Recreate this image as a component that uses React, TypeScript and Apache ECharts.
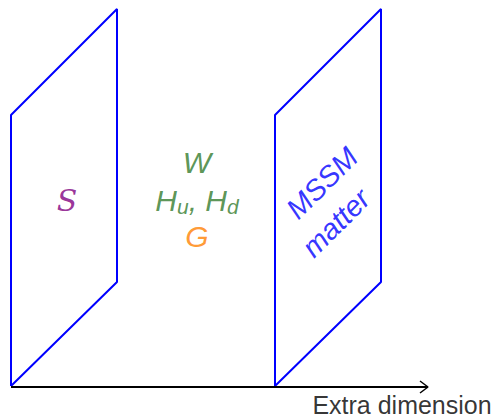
import React, { useEffect, useRef } from "react";
import * as echarts from "echarts";

// Plane outlines (pixel-like coordinates, y downward)
const leftPlane: number[][] = [[11, 386], [11, 115], [117, 9], [117, 282], [11, 386]];
const rightPlane: number[][] = [[275, 386], [275, 115], [381, 9], [381, 282], [275, 386]];
const axisLine: number[][] = [[11, 387], [428, 387]];
const arrowHead: number[][] = [[420, 381], [428, 387], [420, 393]];

// Labels
const labelS = { pos: [67, 200], text: "S" };
const labelW = { pos: [197, 162], text: "W" };
const labelH = { pos: [197, 200] };
const labelG = { pos: [197, 236], text: "G" };
const labelMSSM = { pos: [322, 183], text: "MSSM" };
const labelMatter = { pos: [336, 223], text: "matter" };
const labelAxis = { pos: [402, 405], text: "Extra dimension" };

const FONT = "'Liberation Sans', Arial, Helvetica, sans-serif";
const GREEN = "#327a2b";

function textPoint(pos: number[], formatter: string, color: string, extra: any = {}) {
  return {
    type: "scatter",
    symbolSize: 1,
    itemStyle: { color: "transparent" },
    silent: true,
    data: [pos],
    label: {
      show: true,
      position: "inside",
      formatter,
      color,
      fontFamily: FONT,
      fontSize: 29,
      fontStyle: "italic",
      align: "center",
      verticalAlign: "middle",
      ...extra,
    },
  };
}

function lineSeries(data: number[][], color: string, width: number) {
  return {
    type: "line",
    data,
    symbol: "none",
    silent: true,
    lineStyle: { color, width },
  };
}

export default function App() {
  const ref = useRef<HTMLDivElement>(null);
  useEffect(() => {
    if (!ref.current) return;
    const chart = echarts.init(ref.current, undefined, { renderer: "svg" });
    chart.setOption({
      animation: false,
      backgroundColor: "#ffffff",
      grid: { left: 0, right: 0, top: 0, bottom: 0 },
      xAxis: { type: "value", min: 0, max: 500, show: false },
      yAxis: { type: "value", min: 0, max: 418, inverse: true, show: false },
      series: [
        lineSeries(leftPlane, "#0000ff", 2),
        lineSeries(rightPlane, "#0000ff", 2),
        lineSeries(axisLine, "#000000", 2),
        lineSeries(arrowHead, "#000000", 1.5),
        textPoint(labelS.pos, labelS.text, "#800080", {
          fontFamily: "'DejaVu Serif', serif",
          fontSize: 30,
        }),
        textPoint(labelW.pos, labelW.text, GREEN, { fontSize: 30 }),
        textPoint(labelH.pos, "{h|H}{s|u}{h|, H}{s|d}", GREEN, {
          rich: {
            h: { fontSize: 30, fontStyle: "italic", fontFamily: FONT, color: GREEN },
            s: {
              fontSize: 21,
              fontStyle: "italic",
              fontFamily: FONT,
              color: GREEN,
              verticalAlign: "bottom",
              padding: [13, 0, 0, 0],
            },
          },
        }),
        textPoint(labelG.pos, labelG.text, "#ff8000", { fontSize: 30 }),
        textPoint(labelMSSM.pos, labelMSSM.text, "#0000ff", { rotate: 45 }),
        textPoint(labelMatter.pos, labelMatter.text, "#0000ff", { rotate: 45 }),
        textPoint(labelAxis.pos, labelAxis.text, "#000000", {
          fontStyle: "normal",
          fontSize: 25,
          lineHeight: 22,
        }),
      ],
    });
    return () => chart.dispose();
  }, []);
  return (
    <div
      ref={ref}
      style={{ position: "fixed", left: 0, top: 0, width: 500, height: 418 }}
    />
  );
}
